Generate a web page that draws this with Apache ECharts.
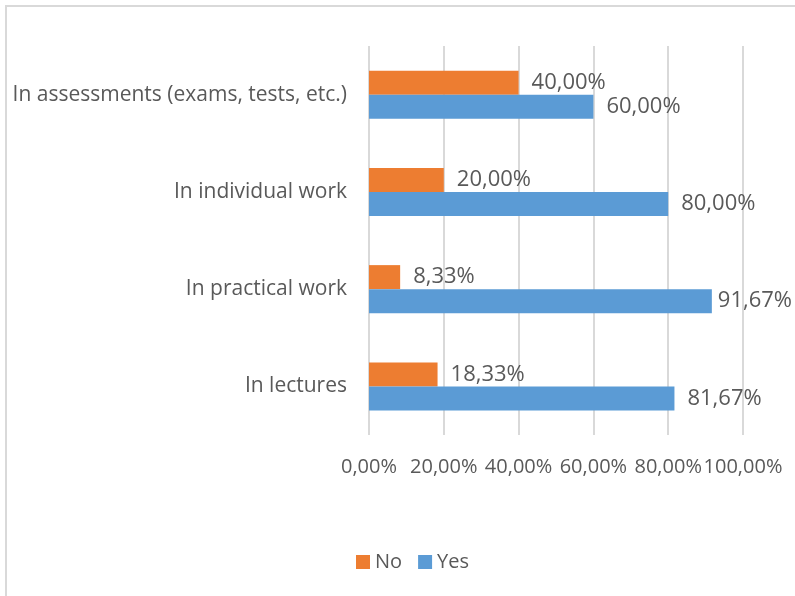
<!DOCTYPE html>
<html>
<head>
<meta charset="utf-8">
<script src="https://cdn.jsdelivr.net/npm/echarts@6/dist/echarts.min.js"></script>
<style>html,body{margin:0;padding:0;background:#fff}#c{width:795px;height:596px}</style>
</head>
<body>
<div id="c"></div>
<script>
const categories = ['In lectures', 'In practical work', 'In individual work', 'In assessments (exams, tests, etc.)'];
const noValues = [18.33, 8.33, 20.00, 40.00];
const yesValues = [81.67, 91.67, 80.00, 60.00];
const seriesNames = ['No', 'Yes'];

function pct(v) { return v.toFixed(2).replace('.', ',') + '%'; }

const chart = echarts.init(document.getElementById('c'));
const font = '"Open Sans", sans-serif';
const textColor = '#595959';
const labelStyle = {
  show: true, position: 'right', distance: 13,
  color: textColor, fontFamily: font, fontSize: 22,
  formatter: p => pct(p.value)
};
// like the source, labels near the right edge are pulled closer to their bar
function withLabels(values) {
  return values.map(v => v > 90 ? { value: v, label: { distance: 6 } } : v);
}
chart.setOption({
  animation: false,
  backgroundColor: '#fff',
  graphic: [{
    type: 'rect', x: 6, y: 6,
    shape: { x: 0, y: 0, width: 900, height: 700 },
    style: { fill: 'none', stroke: '#d9d9d9', lineWidth: 2 },
    silent: true
  }],
  legend: {
    data: seriesNames, left: 351, top: 547,
    itemWidth: 14, itemHeight: 14, itemGap: 16,
    icon: 'rect',
    textStyle: { color: textColor, fontFamily: font, fontSize: 20 }
  },
  grid: { left: 369, right: 52, top: 46, bottom: 161 },
  xAxis: {
    type: 'value', min: 0, max: 100, interval: 20,
    axisLine: { show: false }, axisTick: { show: false },
    splitLine: { lineStyle: { color: '#d9d9d9', width: 2 } },
    axisLabel: {
      color: textColor, fontFamily: font, fontSize: 20, margin: 22,
      hideOverlap: false,
      formatter: v => pct(v)
    }
  },
  yAxis: {
    type: 'category', data: categories,
    axisLine: { show: false }, axisTick: { show: false },
    axisLabel: { color: textColor, fontFamily: font, fontSize: 21, margin: 22 }
  },
  series: [
    { name: 'No', type: 'bar', data: withLabels(noValues), barWidth: 24, barGap: '0%',
      itemStyle: { color: '#ED7D31' }, label: labelStyle },
    { name: 'Yes', type: 'bar', data: withLabels(yesValues), barWidth: 24, barGap: '0%',
      itemStyle: { color: '#5B9BD5' }, label: labelStyle }
  ]
});
</script>
</body>
</html>
